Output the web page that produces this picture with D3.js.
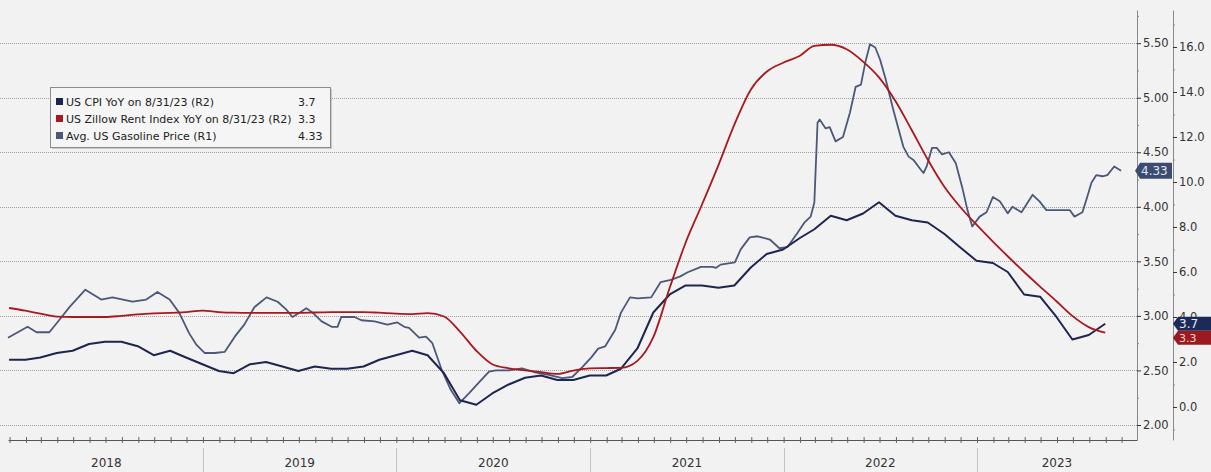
<!DOCTYPE html>
<html><head><meta charset="utf-8">
<script src="https://cdn.jsdelivr.net/npm/d3@7"></script>
<style>html,body{margin:0;padding:0;background:#f2f2f2;}svg{display:block;}</style>
</head><body>
<svg id="c" width="1211" height="472"></svg>
<script>
// ---- data ----
const months = ["2017-12",
"2018-01","2018-02","2018-03","2018-04","2018-05","2018-06","2018-07","2018-08","2018-09","2018-10","2018-11","2018-12",
"2019-01","2019-02","2019-03","2019-04","2019-05","2019-06","2019-07","2019-08","2019-09","2019-10","2019-11","2019-12",
"2020-01","2020-02","2020-03","2020-04","2020-05","2020-06","2020-07","2020-08","2020-09","2020-10","2020-11","2020-12",
"2021-01","2021-02","2021-03","2021-04","2021-05","2021-06","2021-07","2021-08","2021-09","2021-10","2021-11","2021-12",
"2022-01","2022-02","2022-03","2022-04","2022-05","2022-06","2022-07","2022-08","2022-09","2022-10","2022-11","2022-12",
"2023-01","2023-02","2023-03","2023-04","2023-05","2023-06","2023-07","2023-08"];
const cpiValues = [2.1,
2.1,2.2,2.4,2.5,2.8,2.9,2.9,2.7,2.3,2.5,2.2,1.9,
1.6,1.5,1.9,2.0,1.8,1.6,1.8,1.7,1.7,1.8,2.1,2.3,
2.5,2.3,1.5,0.3,0.1,0.6,1.0,1.3,1.4,1.2,1.2,1.4,
1.4,1.7,2.6,4.2,5.0,5.4,5.4,5.3,5.4,6.2,6.8,7.0,
7.5,7.9,8.5,8.3,8.6,9.1,8.5,8.3,8.2,7.7,7.1,6.5,
6.4,6.0,5.0,4.9,4.0,3.0,3.2,3.7];
const zillowValues = [4.4,
4.28,4.15,4.02,4.0,4.0,4.0,4.05,4.12,4.16,4.18,4.22,4.28,
4.22,4.19,4.18,4.18,4.18,4.18,4.2,4.22,4.22,4.22,4.19,4.15,
4.13,4.17,4.02,3.35,2.5,1.9,1.72,1.63,1.55,1.47,1.62,1.72,
1.73,1.74,2.05,3.1,5.3,7.3,9.0,10.75,12.55,14.1,14.9,15.3,
15.6,16.05,16.1,15.9,15.35,14.65,13.6,12.3,11.0,9.8,8.9,8.1,
7.35,6.7,6.0,5.35,4.7,4.05,3.55,3.3];
const gasDates = ["2017-12-29","2018-02-04","2018-02-21","2018-03-17","2018-04-01","2018-04-24","2018-05-24","2018-06-23","2018-07-14","2018-08-21","2018-09-16","2018-10-07","2018-10-30","2018-11-17","2018-12-06","2018-12-19",
"2019-01-04","2019-01-23","2019-02-11","2019-03-02","2019-03-20","2019-04-08","2019-05-01","2019-05-22","2019-06-07","2019-06-19","2019-07-06","2019-07-15","2019-07-27","2019-08-13","2019-09-01","2019-09-12","2019-09-19","2019-10-14","2019-10-27","2019-11-21","2019-12-15",
"2020-01-03","2020-01-16","2020-01-25","2020-02-13","2020-02-26","2020-03-09","2020-03-27","2020-04-13","2020-04-29","2020-05-17","2020-06-05","2020-06-24","2020-07-07","2020-08-01","2020-08-25","2020-09-21","2020-10-15","2020-11-09","2020-11-28","2020-12-17",
"2021-01-03","2021-01-16","2021-01-29","2021-02-17","2021-02-28","2021-03-17","2021-04-01","2021-04-26","2021-05-14","2021-06-02","2021-06-19","2021-07-04","2021-07-29","2021-08-20","2021-08-26","2021-09-04","2021-10-01","2021-10-12","2021-10-29","2021-11-13","2021-12-06","2021-12-24",
"2022-01-08","2022-01-27","2022-02-10","2022-02-21","2022-02-28","2022-03-06","2022-03-10","2022-03-21","2022-03-29","2022-04-09","2022-04-23","2022-05-06","2022-05-17","2022-05-27","2022-06-04","2022-06-13","2022-06-23","2022-07-02","2022-07-12","2022-07-27","2022-08-06","2022-08-15","2022-08-25","2022-09-03","2022-09-17","2022-09-22","2022-09-28","2022-10-08","2022-10-17","2022-10-27","2022-11-09","2022-11-22","2022-12-04","2022-12-14","2022-12-23",
"2023-01-06","2023-01-19","2023-01-31","2023-02-13","2023-02-28","2023-03-09","2023-03-26","2023-04-16","2023-04-29","2023-05-12","2023-06-06","2023-06-25","2023-07-04","2023-07-19","2023-07-28","2023-08-05","2023-08-14","2023-08-26","2023-09-04","2023-09-17","2023-09-30"];
const gasValues = [2.80,2.90,2.85,2.85,2.94,3.08,3.24,3.15,3.17,3.13,3.15,3.22,3.15,3.03,2.84,2.74,
2.66,2.66,2.67,2.81,2.92,3.08,3.17,3.13,3.06,2.99,3.04,3.07,3.03,2.95,2.90,2.90,2.99,2.99,2.96,2.95,2.92,
2.94,2.90,2.89,2.80,2.81,2.75,2.50,2.32,2.20,2.29,2.39,2.49,2.50,2.50,2.52,2.48,2.46,2.43,2.44,2.53,
2.62,2.70,2.72,2.87,3.03,3.17,3.16,3.17,3.31,3.33,3.36,3.40,3.45,3.45,3.44,3.47,3.49,3.61,3.72,3.73,3.70,3.62,
3.63,3.76,3.86,3.91,4.04,4.77,4.80,4.72,4.73,4.60,4.64,4.86,5.10,5.12,5.32,5.49,5.46,5.35,5.18,4.89,4.71,4.55,4.46,4.43,4.34,4.31,4.37,4.54,4.54,4.48,4.50,4.40,4.18,3.97,3.82,
3.91,3.95,4.09,4.05,3.94,4.00,3.95,4.11,4.05,3.97,3.97,3.97,3.91,3.95,4.09,4.22,4.29,4.28,4.29,4.37,4.33];
const r1Ticks = [2.0,2.5,3.0,3.5,4.0,4.5,5.0,5.5];
const r2Ticks = [0,2,4,6,8,10,12,14,16];
const yearLabels = ["2018","2019","2020","2021","2022","2023"];
const legendLabels = ["US CPI YoY on 8/31/23 (R2)","US Zillow Rent Index YoY on 8/31/23 (R2)","Avg. US Gasoline Price (R1)"];
const legendValues = ["3.7","3.3","4.33"];

// ---- styles ----
const C_CPI = "#1e2650", C_ZIL = "#a8191f", C_GAS = "#4b5878";
const FONT = "DejaVu Sans, Verdana, sans-serif";

const svg = d3.select("#c");
const parse = d3.timeParse("%Y-%m-%d");
const monthEnd = m => d3.timeDay.offset(d3.timeMonth.offset(d3.timeParse("%Y-%m")(m), 1), -1);

const x = d3.scaleTime().domain([new Date(2017,11,29), new Date(2023,9,30)]).range([8,1137]);
const y1 = d3.scaleLinear().domain([1.8625,5.804]).range([440,10]);
const y2 = d3.scaleLinear().domain([-1.467,17.644]).range([440,10]);

// gridlines
svg.append("g").selectAll("line").data(r1Ticks).join("line")
  .attr("x1",0).attr("x2",1137).attr("y1",d=>Math.round(y1(d))+0.5).attr("y2",d=>Math.round(y1(d))+0.5)
  .attr("stroke","#a0a0a0").attr("stroke-width",1).attr("stroke-dasharray","1,1");

// bottom axis
const xAx = svg.append("g").attr("transform","translate(0,440)")
  .call(d3.axisBottom(x).ticks(d3.timeMonth.every(1)).tickSizeInner(3).tickSizeOuter(0).tickFormat(""));
xAx.select(".domain").attr("stroke","#555");
xAx.selectAll(".tick line").attr("y1",-3).attr("y2",3).attr("stroke","#666");

// year separators and labels
const years = yearLabels.map(s => +s);
svg.append("g").selectAll("line").data(years.slice(1)).join("line")
  .attr("x1",d=>Math.round(x(new Date(d,0,1)))+0.5).attr("x2",d=>Math.round(x(new Date(d,0,1)))+0.5)
  .attr("y1",448).attr("y2",472).attr("stroke","#c4c4c4");
const [d0,d1] = x.domain();
svg.append("g").selectAll("text").data(yearLabels).join("text")
  .attr("x", s => { const a = new Date(+s,0,1), b = new Date(+s+1,0,1);
     return (x(a < d0 ? d0 : a) + x(b > d1 ? d1 : b))/2; })
  .attr("y",467).attr("text-anchor","middle").attr("font-family",FONT).attr("font-size",12)
  .attr("fill","#333").text(d=>d);

// R1 axis
const a1 = svg.append("g").attr("transform","translate(1137,0)")
  .call(d3.axisRight(y1).tickValues(r1Ticks).tickFormat(d3.format(".2f")).tickSizeInner(4).tickSizeOuter(0).tickPadding(2));
a1.select(".domain").attr("stroke","#888");
a1.selectAll(".tick line").attr("stroke","#333");
a1.selectAll("text").attr("font-family",FONT).attr("font-size",11.5).attr("fill","#333");
svg.append("g").attr("transform","translate(1137,0)")
  .call(d3.axisRight(y1).tickValues(r1Ticks.map(d=>d+0.25).filter(d=>d<5.8)).tickSize(2).tickFormat(""))
  .call(g=>{g.select(".domain").remove(); g.selectAll("line").attr("stroke","#888");});

// R2 axis
const a2 = svg.append("g").attr("transform","translate(1173,0)")
  .call(d3.axisRight(y2).tickValues(r2Ticks).tickFormat(d3.format(".1f")).tickSizeInner(4).tickSizeOuter(0).tickPadding(2));
a2.select(".domain").attr("stroke","#888");
a2.selectAll(".tick line").attr("stroke","#333");
a2.selectAll("text").attr("font-family",FONT).attr("font-size",11.5).attr("fill","#333");
svg.append("g").attr("transform","translate(1173,0)")
  .call(d3.axisRight(y2).tickValues([-1,1,3,5,7,9,11,13,15,17]).tickSize(2).tickFormat(""))
  .call(g=>{g.select(".domain").remove(); g.selectAll("line").attr("stroke","#888");});

// lines
const plot = svg.append("g");
const zilData = months.map((m,i)=>({d:monthEnd(m), v:zillowValues[i]}));
const cpiData = months.map((m,i)=>({d:monthEnd(m), v:cpiValues[i]}));
const gasData = gasDates.map((s,i)=>({d:parse(s), v:gasValues[i]}));
plot.append("path").datum(gasData).attr("fill","none").attr("stroke",C_GAS).attr("stroke-width",1.8)
  .attr("stroke-linejoin","round")
  .attr("d", d3.line().x(d=>x(d.d)).y(d=>y1(d.v)));
plot.append("path").datum(cpiData).attr("fill","none").attr("stroke",C_CPI).attr("stroke-width",2)
  .attr("stroke-linejoin","round")
  .attr("d", d3.line().x(d=>x(d.d)).y(d=>y2(d.v)));
plot.append("path").datum(zilData).attr("fill","none").attr("stroke",C_ZIL).attr("stroke-width",1.8)
  .attr("d", d3.line().curve(d3.curveMonotoneX).x(d=>x(d.d)).y(d=>y2(d.v)));

// end labels
function tag(xl, cy, w, h, fill, txt, tcol, fs){
  svg.append("path").attr("d",`M${xl},${cy} L${xl+5},${cy-h} L${xl+w},${cy-h} L${xl+w},${cy+h} L${xl+5},${cy+h} Z`)
    .attr("fill",fill);
  svg.append("text").attr("x",xl+6).attr("y",cy+fs*0.37).attr("font-family",FONT).attr("font-size",fs)
    .attr("fill",tcol).text(txt);
}
tag(1135, y1(gasValues[gasValues.length-1]), 37, 8, "#3c4c70", legendValues[2], "#dfe6f2", 12);
const cpiCy = y2(cpiValues[cpiValues.length-1]);
const zilCy = Math.max(y2(zillowValues[zillowValues.length-1]), cpiCy + 14);
tag(1173, zilCy, 38, 7, "#9a1a1f", legendValues[1], "#f3d5d5", 11);
tag(1173, cpiCy, 38, 7, "#1c2a58", legendValues[0], "#e6ecf8", 12);

// legend
const lg = svg.append("g");
lg.append("rect").attr("x",52).attr("y",89).attr("width",280).attr("height",60).attr("fill","#c8c8c8");
lg.append("rect").attr("x",50.5).attr("y",87.5).attr("width",280).attr("height",60)
  .attr("fill","#f5f5f5").attr("stroke","#8c8c8c");
const lcols = [C_CPI, C_ZIL, C_GAS];
legendLabels.forEach((t,i)=>{
  const yb = 106 + i*17;
  lg.append("rect").attr("x",56).attr("y",yb-8).attr("width",7).attr("height",7).attr("fill",lcols[i]);
  lg.append("text").attr("x",66).attr("y",yb).attr("font-family",FONT).attr("font-size",11)
    .attr("fill","#222").text(t);
  lg.append("text").attr("x",298).attr("y",yb).attr("font-family",FONT).attr("font-size",11)
    .attr("fill","#222").text(legendValues[i]);
});
</script>
</body></html>
